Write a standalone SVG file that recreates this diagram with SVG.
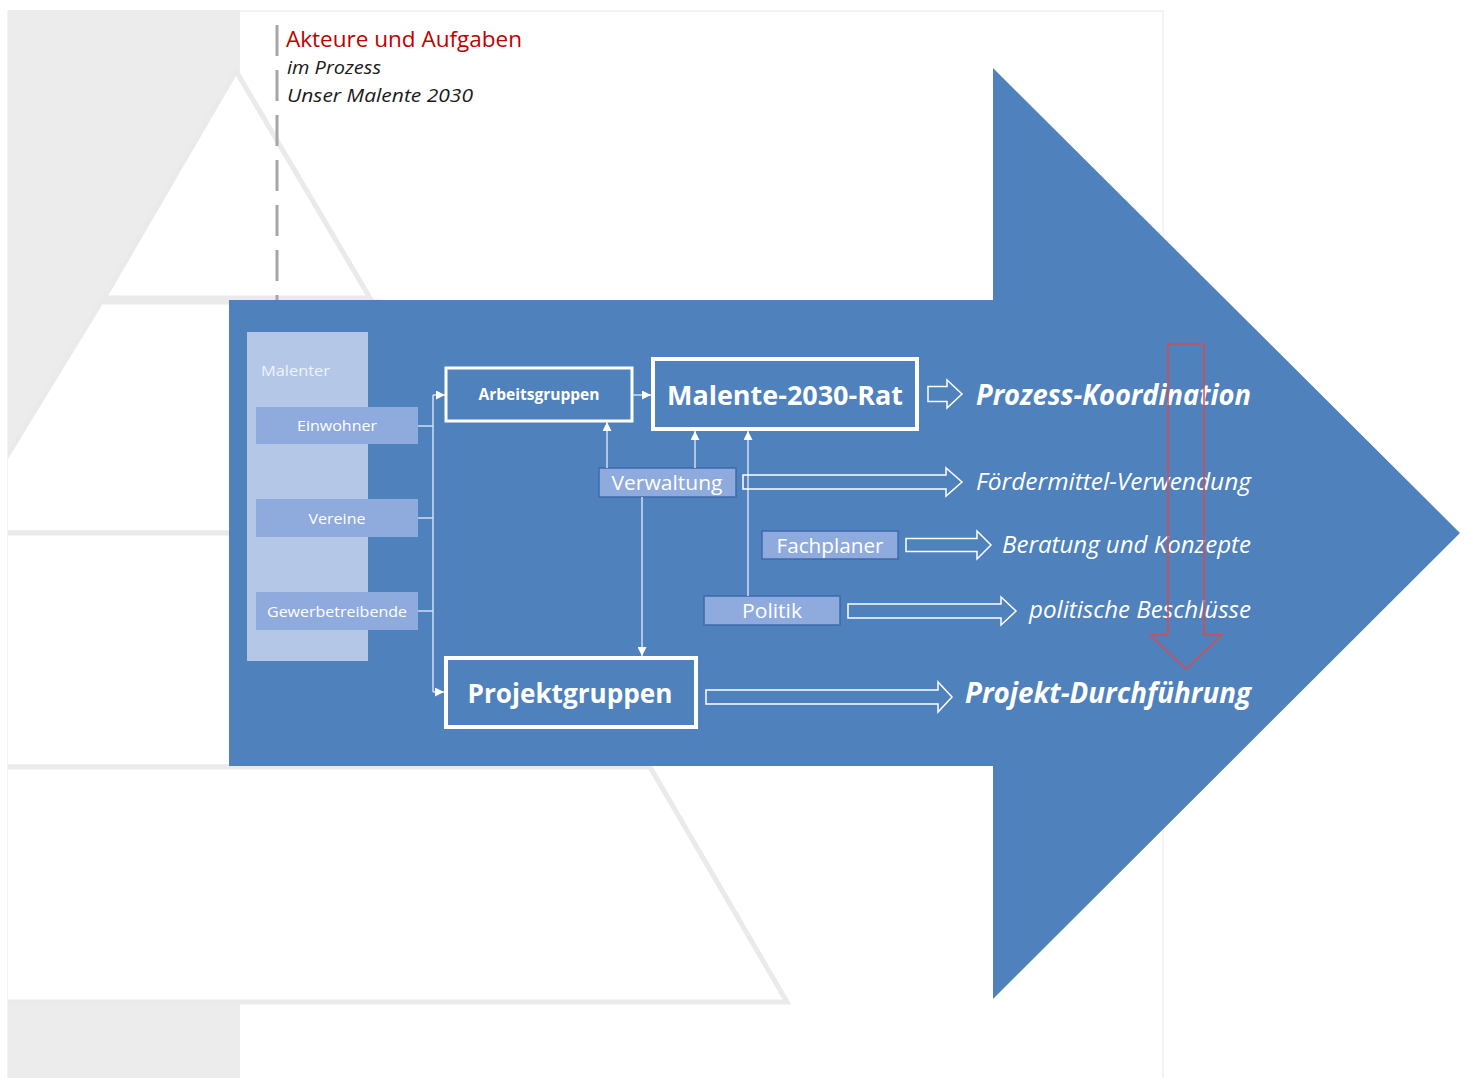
<svg xmlns="http://www.w3.org/2000/svg" width="1467" height="1078" viewBox="0 0 1467 1078">
<defs>
<style>
.t{font-family:"Open Sans","Noto Sans","Liberation Sans",sans-serif;}
.wt{fill:#ffffff;}
.lay{fill:#ffffff;stroke:#eaeaea;stroke-width:5;stroke-linejoin:miter;}
.col{fill:#b4c7e7;}
.sub{fill:#8faadc;}
.box2{fill:#8faadc;stroke:#3e6aae;stroke-width:1.5;}
.wbox{fill:#4f81bd;stroke:#ffffff;}
.con{stroke:#d3def1;stroke-width:1.5;fill:none;}
.ha{fill:none;stroke:#ffffff;stroke-width:1.5;stroke-linejoin:miter;}
</style>
<clipPath id="page">
<rect x="8" y="10" width="1160" height="1068"/>
</clipPath>
<marker id="ah" viewBox="0 0 10 10" refX="10" refY="5" markerWidth="9" markerHeight="9" markerUnits="userSpaceOnUse" orient="auto">
<path d="M0,0 L10,5 L0,10 Z" fill="#ffffff"/>
</marker>
</defs>

<g id="background">
<rect x="8" y="11" width="1155" height="1070" fill="#ffffff" stroke="#efefef" stroke-width="1.5"/>
<g clip-path="url(#page)">
<rect x="8" y="10" width="232" height="1068" fill="#ececec"/>
<polygon class="lay" points="236,71 104,298 370,298"/>
<polygon class="lay" points="101,302 380,302 500,533 -20,533 -20,500"/>
<polygon class="lay" points="-20,533 520,533 640,767 -20,767"/>
<polygon class="lay" points="-20,767 650,767 787,1002 -20,1002"/>
</g>
<line x1="277" y1="25" x2="277" y2="300" stroke="#a6a6a6" stroke-width="3" stroke-dasharray="31,14"/>
</g>

<g id="title">
<text class="t" x="286" y="47" font-size="22" fill="#c00000" textLength="236" lengthAdjust="spacingAndGlyphs">Akteure und Aufgaben</text>
<text class="t" x="287" y="74" font-size="19" font-style="italic" fill="#1a1a1a" textLength="94" lengthAdjust="spacingAndGlyphs">im Prozess</text>
<text class="t" x="287" y="102" font-size="19" font-style="italic" fill="#1a1a1a" textLength="186" lengthAdjust="spacingAndGlyphs">Unser Malente 2030</text>
</g>

<g id="big-arrow">
<polygon points="229,300 993,300 993,68 1460,533 993,999 993,766 229,766" fill="#4f81bd"/>
</g>

<g id="malenter">
<rect class="col" x="247" y="332" width="121" height="329"/>
<text class="t" x="261" y="376" font-size="15" fill="#eef3fb" textLength="69" lengthAdjust="spacingAndGlyphs">Malenter</text>
</g>
<g id="einwohner">
<rect class="sub" x="256" y="407" width="162" height="37"/>
<text class="t wt" x="337" y="431" font-size="15" text-anchor="middle" textLength="80" lengthAdjust="spacingAndGlyphs">Einwohner</text>
</g>
<g id="vereine">
<rect class="sub" x="256" y="499" width="162" height="38"/>
<text class="t wt" x="337" y="524" font-size="15" text-anchor="middle" textLength="57" lengthAdjust="spacingAndGlyphs">Vereine</text>
</g>
<g id="gewerbetreibende">
<rect class="sub" x="256" y="592" width="162" height="38"/>
<text class="t wt" x="337" y="617" font-size="15" text-anchor="middle" textLength="140" lengthAdjust="spacingAndGlyphs">Gewerbetreibende</text>
</g>

<g id="arbeitsgruppen">
<rect class="wbox" x="446" y="368" width="186" height="53" stroke-width="3"/>
<text class="t wt" x="539" y="400" font-size="16" font-weight="bold" text-anchor="middle" textLength="121" lengthAdjust="spacingAndGlyphs">Arbeitsgruppen</text>
</g>
<g id="rat">
<rect class="wbox" x="653" y="359" width="264" height="70" stroke-width="4"/>
<text class="t wt" x="785" y="405" font-size="27" font-weight="bold" text-anchor="middle" textLength="236" lengthAdjust="spacingAndGlyphs">Malente-2030-Rat</text>
</g>
<g id="verwaltung">
<rect class="box2" x="599" y="468" width="137" height="29"/>
<text class="t wt" x="667" y="490" font-size="20" text-anchor="middle" textLength="111" lengthAdjust="spacingAndGlyphs">Verwaltung</text>
</g>
<g id="fachplaner">
<rect class="box2" x="762" y="531" width="136" height="28"/>
<text class="t wt" x="830" y="553" font-size="20" text-anchor="middle" textLength="107" lengthAdjust="spacingAndGlyphs">Fachplaner</text>
</g>
<g id="politik">
<rect class="box2" x="704" y="596" width="136" height="29"/>
<text class="t wt" x="772" y="618" font-size="20" text-anchor="middle" textLength="60" lengthAdjust="spacingAndGlyphs">Politik</text>
</g>
<g id="projektgruppen">
<rect class="wbox" x="446" y="658" width="250" height="69" stroke-width="4"/>
<text class="t wt" x="570" y="703" font-size="26" font-weight="bold" text-anchor="middle" textLength="205" lengthAdjust="spacingAndGlyphs">Projektgruppen</text>
</g>

<g id="connectors">
<line class="con" x1="418" y1="426" x2="433" y2="426"/>
<line class="con" x1="418" y1="518" x2="433" y2="518"/>
<line class="con" x1="418" y1="611" x2="433" y2="611"/>
<line class="con" x1="433" y1="395" x2="433" y2="692"/>
<line class="con" x1="433" y1="395" x2="445" y2="395" marker-end="url(#ah)"/>
<line class="con" x1="433" y1="692" x2="444" y2="692" marker-end="url(#ah)"/>
<line class="con" x1="633" y1="395" x2="651" y2="395" marker-end="url(#ah)"/>
<line class="con" x1="607" y1="468" x2="607" y2="422" marker-end="url(#ah)"/>
<line class="con" x1="695" y1="468" x2="695" y2="431" marker-end="url(#ah)"/>
<line class="con" x1="748" y1="596" x2="748" y2="431" marker-end="url(#ah)"/>
<line class="con" x1="642" y1="497" x2="642" y2="656" marker-end="url(#ah)"/>
<path class="ha" d="M928,386.5 L947,386.5 L947,380 L962,394 L947,408 L947,401.5 L928,401.5 Z"/>
<path class="ha" d="M743,475 L946,475 L946,468 L962,482 L946,496 L946,489 L743,489 Z"/>
<path class="ha" d="M906,538.5 L977,538.5 L977,531 L991,545 L977,559 L977,551.5 L906,551.5 Z"/>
<path class="ha" d="M848,604 L1001,604 L1001,597 L1016,611 L1001,625 L1001,618 L848,618 Z"/>
<path class="ha" d="M706,690 L938,690 L938,682 L952,697 L938,712 L938,704 L706,704 Z"/>
</g>

<g id="outcomes">
<text class="t wt" x="1251" y="405" font-size="28" font-weight="bold" font-style="italic" text-anchor="end" textLength="275" lengthAdjust="spacingAndGlyphs">Prozess-Koordination</text>
<text class="t wt" x="1251" y="490" font-size="23" font-style="italic" text-anchor="end" textLength="275" lengthAdjust="spacingAndGlyphs">Fördermittel-Verwendung</text>
<text class="t wt" x="1251" y="553" font-size="23" font-style="italic" text-anchor="end" textLength="249" lengthAdjust="spacingAndGlyphs">Beratung und Konzepte</text>
<text class="t wt" x="1251" y="618" font-size="23" font-style="italic" text-anchor="end" textLength="222" lengthAdjust="spacingAndGlyphs">politische Beschlüsse</text>
<text class="t wt" x="1251" y="703" font-size="28" font-weight="bold" font-style="italic" text-anchor="end" textLength="286" lengthAdjust="spacingAndGlyphs">Projekt-Durchführung</text>
</g>

<g id="red-arrow">
<path d="M1168,344 L1204,344 L1204,635 L1222,635 L1186,669 L1150,635 L1168,635 Z" fill="none" stroke="#e0484d" stroke-width="1.5"/>
</g>
</svg>
